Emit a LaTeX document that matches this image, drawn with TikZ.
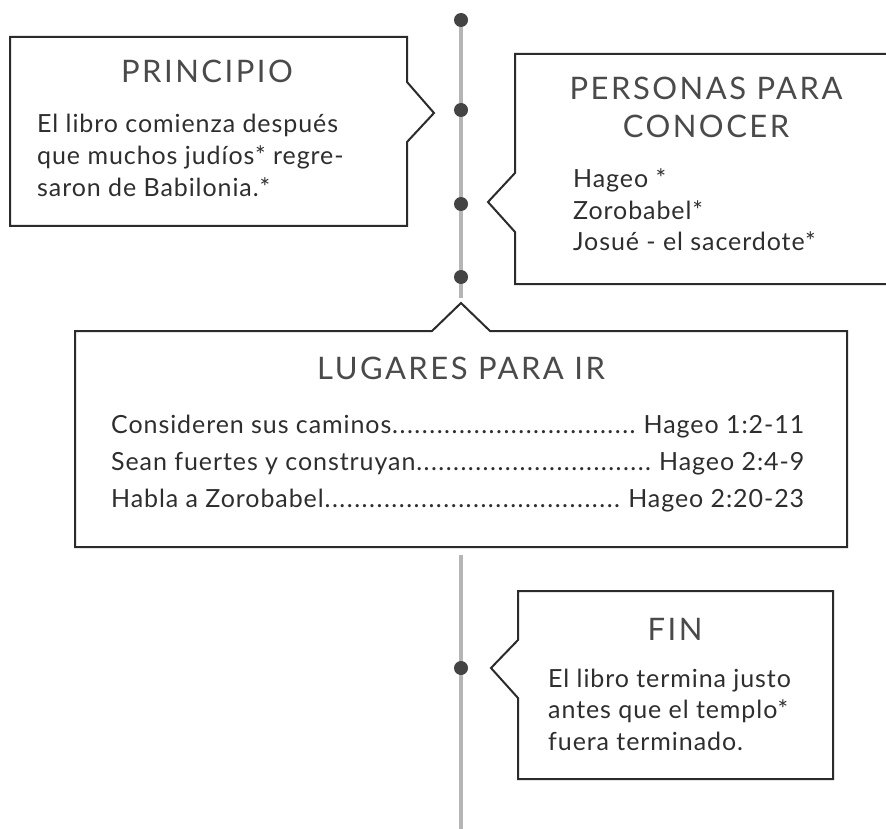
\documentclass[tikz,border=0pt]{standalone}
\usepackage{fontspec}
\setmainfont{Lato}[LetterSpace=3.7]
\newfontfamily\headfam[LetterSpace=8]{Lato}
\definecolor{boxline}{HTML}{2B2B2B}
\definecolor{tlgray}{HTML}{B5B5B5}
\definecolor{dotc}{HTML}{444444}
\definecolor{headc}{HTML}{4A4A4A}
\definecolor{bodyc}{HTML}{2E2E2E}
\newcommand{\hfnt}{\headfam\fontsize{31}{31}\selectfont}
\newcommand{\bfnt}{\fontsize{25}{30}\selectfont}
\newcommand{\dotlead}{\xleaders\hbox to 7.3pt{\hss.\hss}\hfill}
\begin{document}
\begin{tikzpicture}[x=1pt,y=-1pt,
  boxshape/.style={draw=boxline, line width=2pt, line join=miter},
  tline/.style={draw=tlgray, line width=4pt},
  tdot/.style={circle, fill=dotc, inner sep=0pt, minimum size=14pt},
  headtxt/.style={inner sep=0pt, font=\hfnt, text=headc},
  bodytxt/.style={inner sep=0pt, font=\bfnt, text=bodyc}]
\useasboundingbox (0,0) rectangle (886,829);

% timeline
\coordinate (tlA) at (461,298);
\coordinate (tlB) at (461,555);
\coordinate (tlC) at (461,829);
\coordinate (c1) at (461,20);
\draw[tline] (c1) -- (tlA);
\draw[tline] (tlB) -- (tlC);
\node[tdot] (d1) at (461,20) {};
\node[tdot] (d2) at (461,110) {};
\node[tdot] (d3) at (461,204) {};
\node[tdot] (d4) at (461,277) {};
\node[tdot] (d5) at (461,668) {};

% PRINCIPIO box
\draw[boxshape] (407,82) -- (434,113) -- (407,142) -- (407,226) -- (10,226) -- (10,37) -- (407,37) -- cycle;
\node[headtxt, anchor=base] (h1) at (207,83) {PRINCIPIO};
\node[bodytxt, anchor=base west] (p1) at (37,133) {El libro comienza después};
\node[bodytxt, anchor=base west] (p2) at (37,165) {que muchos judíos* regre-};
\node[bodytxt, anchor=base west] (p3) at (37,197) {saron de Babilonia.*};

% PERSONAS box
\draw[boxshape] (887,54) -- (515,54) -- (515,173) -- (488,202) -- (515,232) -- (515,284) -- (887,284);
\node[headtxt, anchor=base] (h2a) at (706,100) {PERSONAS PARA};
\node[headtxt, anchor=base] (h2b) at (706,138) {CONOCER};
\node[bodytxt, anchor=base west] (q1) at (573,188) {Hageo *};
\node[bodytxt, anchor=base west] (q2) at (573,220) {Zorobabel*};
\node[bodytxt, anchor=base west] (q3) at (573,251) {Josué - el sacerdote*};

% LUGARES box
\draw[boxshape] (432,331) -- (461,303) -- (490,331) -- (847,331) -- (847,547) -- (75,547) -- (75,331) -- cycle;
\node[headtxt, anchor=base] (h3) at (461,379) {LUGARES PARA IR};
\node[bodytxt, anchor=base west] (r1) at (111,433) {\makebox[693pt][s]{Consideren sus caminos\dotlead\ Hageo 1:2-11}};
\node[bodytxt, anchor=base west] (r2) at (111,470) {\makebox[693pt][s]{Sean fuertes y construyan\dotlead\ Hageo 2:4-9}};
\node[bodytxt, anchor=base west] (r3) at (111,507) {\makebox[693pt][s]{Habla a Zorobabel\dotlead\ Hageo 2:20-23}};

% FIN box
\draw[boxshape] (518,640) -- (491,668) -- (518,698) -- (518,779) -- (833,779) -- (833,591) -- (518,591) -- cycle;
\node[headtxt, anchor=base] (h4) at (675,640) {FIN};
\node[bodytxt, anchor=base west] (s1) at (548,687) {El libro termina justo};
\node[bodytxt, anchor=base west] (s2) at (548,718) {antes que el templo*};
\node[bodytxt, anchor=base west] (s3) at (548,750) {fuera terminado.};
\end{tikzpicture}
\end{document}
